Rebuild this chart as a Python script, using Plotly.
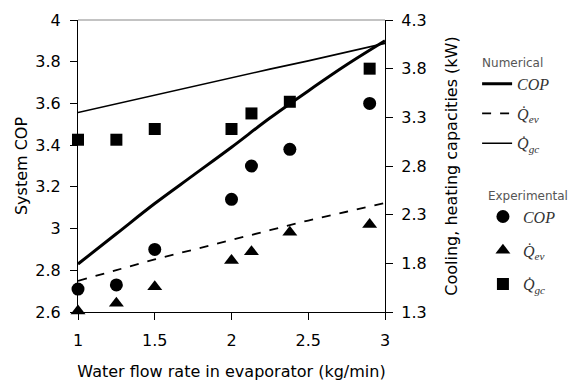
import plotly.graph_objects as go

# Data
x_exp = [1, 1.25, 1.5, 2, 2.13, 2.38, 2.9]
cop_exp = [2.71, 2.73, 2.90, 3.14, 3.30, 3.38, 3.60]
qev_exp = [1.31, 1.39, 1.56, 1.83, 1.92, 2.12, 2.20]
qgc_exp = [3.07, 3.07, 3.18, 3.18, 3.34, 3.46, 3.80]

x_num = [1, 1.25, 1.5, 1.75, 2, 2.25, 2.5, 2.75, 3]
cop_num = [2.83, 2.975, 3.12, 3.255, 3.39, 3.53, 3.66, 3.785, 3.90]
qev_num = [1.62, 1.73, 1.84, 1.94, 2.04, 2.14, 2.24, 2.33, 2.42]
qgc_num = [3.35, 3.44, 3.53, 3.62, 3.71, 3.795, 3.88, 3.97, 4.06]

QEV = "Q\u0307<sub>ev</sub>"
QGC = "Q\u0307<sub>gc</sub>"

SANS = "DejaVu Sans, Arial, sans-serif"
SERIF = "Liberation Serif, Times New Roman, serif"

fig = go.Figure()

# Numerical
fig.add_trace(go.Scatter(x=x_num, y=cop_num, mode="lines", name="<i>COP</i>",
                         line=dict(color="black", width=3, shape="spline"),
                         legend="legend", legendgroup="n1",
                         legendgrouptitle_text="Numerical", yaxis="y"))
fig.add_trace(go.Scatter(x=x_num, y=qev_num, mode="lines", name="<i>" + QEV + "</i>",
                         line=dict(color="black", width=1.8, dash="dash", shape="spline"),
                         legend="legend", legendgroup="n2", yaxis="y2"))
fig.add_trace(go.Scatter(x=x_num, y=qgc_num, mode="lines", name="<i>" + QGC + "</i>",
                         line=dict(color="black", width=1.6),
                         legend="legend", legendgroup="n3", yaxis="y2"))

# Experimental
fig.add_trace(go.Scatter(x=x_exp, y=cop_exp, mode="markers", name="<i>COP</i>",
                         marker=dict(symbol="circle", size=13, color="black"),
                         legend="legend2", legendgroup="e1",
                         legendgrouptitle_text="Experimental",
                         cliponaxis=False, yaxis="y"))
fig.add_trace(go.Scatter(x=x_exp, y=qev_exp, mode="markers", name="<i>" + QEV + "</i>",
                         marker=dict(symbol="triangle-up", size=13, color="black"),
                         legend="legend2", legendgroup="e2", cliponaxis=False, yaxis="y2"))
fig.add_trace(go.Scatter(x=x_exp, y=qgc_exp, mode="markers", name="<i>" + QGC + "</i>",
                         marker=dict(symbol="square", size=12, color="black"),
                         legend="legend2", legendgroup="e3", cliponaxis=False, yaxis="y2"))

axis_common = dict(showline=True, linecolor="black", linewidth=1.2, ticks="outside",
                   ticklen=7, tickcolor="black", showgrid=False, zeroline=False,
                   automargin=False,
                   tickfont=dict(family=SANS, size=16, color="black"))

legend_common = dict(xanchor="left", yanchor="top",
                     font=dict(family=SERIF, size=16, color="#333"),
                     grouptitlefont=dict(family=SANS, size=12, color="#555"),
                     bgcolor="rgba(0,0,0,0)", itemwidth=30)

fig.update_layout(
    width=569, height=387,
    margin=dict(l=78, r=184, t=20, b=75, autoexpand=False),
    paper_bgcolor="white", plot_bgcolor="white",
    font=dict(family=SANS, size=16, color="black"),
    xaxis=dict(range=[1, 3], tickvals=[1, 1.5, 2, 2.5, 3], ticklabelstandoff=7,
               title=dict(text="Water flow rate in evaporator (kg/min)",
                          font=dict(family=SANS, size=16), standoff=16),
               **axis_common),
    yaxis=dict(range=[2.6, 4.0], tick0=2.6, dtick=0.2, ticklabelstandoff=6,
               title=dict(text="System COP", font=dict(family=SANS, size=16), standoff=3),
               **axis_common),
    yaxis2=dict(range=[1.3, 4.3], tick0=1.3, dtick=0.5, tickformat=".1f",
                overlaying="y", side="right", ticklabelstandoff=5,
                title=dict(text="Cooling, heating capacities (kW)",
                           font=dict(family=SANS, size=16), standoff=20),
                **axis_common),
    legend=dict(x=1.3, y=0.905, tracegroupgap=6, **legend_common),
    legend2=dict(x=1.319, y=0.45, tracegroupgap=10, **legend_common),
    shapes=[dict(type="line", xref="paper", yref="paper", x0=0, x1=1, y0=1, y1=1,
                 line=dict(color="#888", width=1.2))],
)

fig.write_html("out.html", post_script="document.body.style.margin='0';",
               config={"displayModeBar": False})
